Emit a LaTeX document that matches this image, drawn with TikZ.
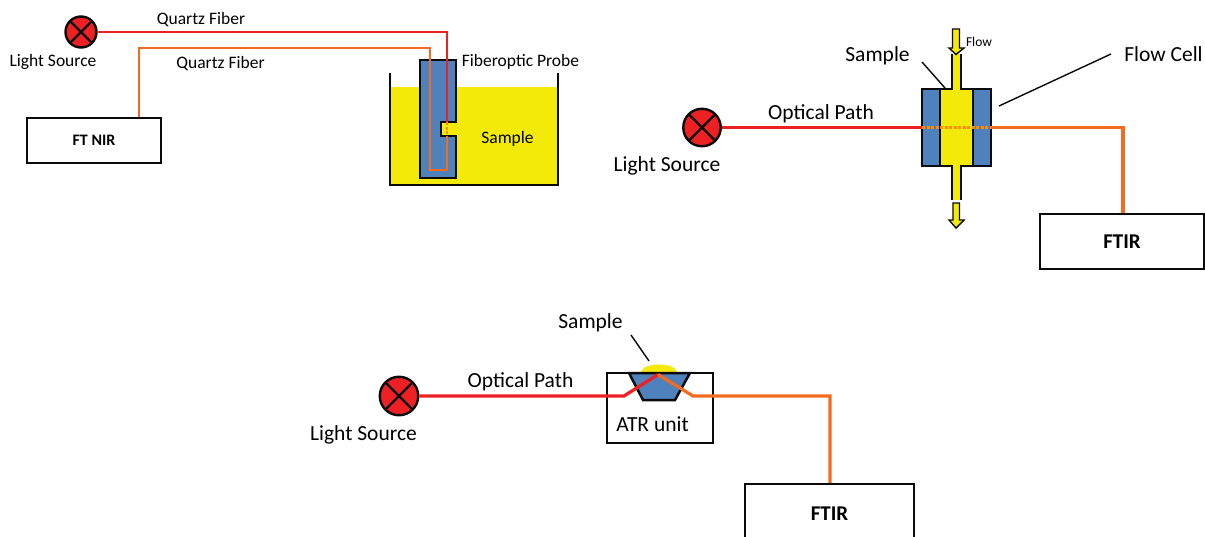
\documentclass[tikz,border=0pt]{standalone}
\usepackage{fontspec}
\setmainfont{Carlito}
\definecolor{lred}{HTML}{ED2024}
\definecolor{lorange}{HTML}{F26B21}
\definecolor{lyellow}{HTML}{F4EA0A}
\definecolor{lblue}{HTML}{4F81BD}
\definecolor{lblack}{HTML}{0A0A0A}
\tikzset{
  x=1pt,y=-1pt,
  lamp/.style={circle,draw=lblack,line width=2.4pt,fill=lred,inner sep=0pt,minimum size=#1,
    path picture={\draw[lblack,line width=2.4pt] (path picture bounding box.north west)--(path picture bounding box.south east)
    (path picture bounding box.north east)--(path picture bounding box.south west);}},
  instr/.style={rectangle,draw=lblack,line width=2.3pt,fill=white,inner sep=0pt,font=\bfseries\fontsize{#1}{#1}\selectfont},
  redfib/.style={draw=lred,line width=3.2pt,line join=miter},
  orfib/.style={draw=lorange,line width=3.2pt,line join=miter},
  thinfib/.style={line width=2.85pt},
  dotfib/.style={draw=orange!90!yellow,line width=2.4pt,dash pattern=on 3pt off 1.5pt},
  wall/.style={draw=lblack,line width=2.5pt,line join=miter},
  leader/.style={draw=lblack,line width=1.4pt},
  lab/.style={inner sep=0pt,text=black,font=\fontsize{#1}{#1}\selectfont},
}
\begin{document}
\begin{tikzpicture}
\useasboundingbox (0,0) rectangle (1205,536);
% --- Top-left: fibre optic probe
\fill[lyellow] (391,87) rectangle (557,184);
\draw[wall] (390,73) -- (390,185) -- (558,185) -- (558,73);
\path[fill=lblue,wall] (420,60) -- (456,60) -- (456,122) -- (441,122) -- (441,136) -- (456,136) -- (456,178) -- (420,178) -- cycle;
\node[lamp=31pt] (ls1) at (81,32) {};
\node[instr=16,minimum width=134pt,minimum height=45pt] (ftnir) at (94,140.5) {FT NIR};
\coordinate (p1) at (447,32);
\coordinate (p2) at (447,122);
\coordinate (p3) at (447,136);
\coordinate (p4) at (447,170);
\coordinate (p5) at (430,170);
\coordinate (p6) at (430,48);
\coordinate (p7) at (139,48);
\path[redfib,thinfib] (ls1.east) -- (p1) -- (p2);
\path[dotfib,line width=2pt] (p2) -- (p3);
\path[orfib,thinfib] (p3) -- (p4) -- (p5) -- (p6) -- (p7) -- (p7 |- ftnir.north);
\node[lab=17.5] (q1) at (201,20) {Quartz Fiber};
\node[lab=17.5] (q2) at (220.5,63.5) {Quartz Fiber};
\node[lab=17.5] (ls1t) at (53,62) {Light Source};
\node[lab=17.5] (probe) at (520.5,62) {Fiberoptic Probe};
\node[lab=17.5] (samp1) at (507.5,139) {Sample};
% --- Top-right: flow cell
\path[fill=lblue,wall] (922,89) rectangle (991,166);
\path[fill=lyellow,wall] (940,89) rectangle (973,166);
\fill[lyellow] (953,54) rectangle (960,91);
\fill[lyellow] (953,164) rectangle (960,200);
\draw[wall] (952,54) -- (952,89);
\draw[wall] (961,54) -- (961,89);
\draw[wall] (952,166) -- (952,200);
\draw[wall] (961,166) -- (961,200);
\fill[lyellow] (941.3,90.3) rectangle (971.7,164.7);
\path[fill=lyellow,draw=lblack,line width=1.4pt,line join=miter] (952.5,29) -- (959.5,29) -- (959.5,48) -- (964,48) -- (956,54.5) -- (949,48) -- (952.5,48) -- cycle;
\path[fill=lyellow,draw=lblack,line width=1.4pt,line join=miter] (953,203) -- (959.5,203) -- (959.5,220) -- (964,220) -- (956,228) -- (949,220) -- (953,220) -- cycle;
\node[lamp=37.5pt] (ls2) at (702,127.5) {};
\node[instr=21,minimum width=164pt,minimum height=55pt] (ftir1) at (1122,241.5) {FTIR};
\coordinate (c1) at (922,127.5);
\coordinate (c2) at (991,127.5);
\coordinate (c3) at (1123,127.5);
\path[redfib] (ls2.east) -- (c1);
\path[dotfib] (c1) -- (c2);
\path[orfib] (c2) -- (c3) -- (c3 |- ftir1.north);
\coordinate (l1a) at (922,62);
\coordinate (l1b) at (945,88);
\coordinate (l2a) at (999,106);
\coordinate (l2b) at (1111,54);
\path[leader] (l1a) -- (l1b);
\path[leader] (l2a) -- (l2b);
\node[lab=13.5] (flow) at (979,41.5) {Flow};
\node[lab=21.5] (samp2) at (877.5,56) {Sample};
\node[lab=21.5] (fc) at (1163.5,54.5) {Flow Cell};
\node[lab=21.5] (op2) at (821,113.5) {Optical Path};
\node[lab=21.5] (ls2t) at (667,165.5) {Light Source};
% --- Bottom: ATR
\node[rectangle,draw=lblack,line width=2.3pt,minimum width=106pt,minimum height=70pt,inner sep=0pt] (atr) at (660,408) {};
\path[fill=lyellow] (641,372) .. controls (643,362) and (675,362) .. (677,372) -- cycle;
\path[fill=lblue,wall] (629,373) -- (690,373) -- (675,400) -- (643,400) -- cycle;
\draw[wall] (627,373) -- (692,373);
\node[lamp=38.5pt] (ls3) at (399,396) {};
\node[instr=21,minimum width=169pt,minimum height=60pt] (ftir2) at (829.5,514) {FTIR};
\coordinate (a1) at (624,396);
\coordinate (a2) at (658,374.5);
\coordinate (a3) at (693,396);
\coordinate (a4) at (830,396);
\path[redfib] (ls3.east) -- (a1) -- (a2);
\path[orfib] (a2) -- (a3) -- (a4) -- (a4 |- ftir2.north);
\coordinate (l3a) at (631,335);
\coordinate (l3b) at (649,361);
\path[leader] (l3a) -- (l3b);
\node[lab=21.5] (samp3) at (590.5,323) {Sample};
\node[lab=21.5] (op3) at (520.5,382) {Optical Path};
\node[lab=21.5] (ls3t) at (363.5,435) {Light Source};
\node[lab=21.5] (atrt) at (652.5,424) {ATR unit};
\end{tikzpicture}
\end{document}
